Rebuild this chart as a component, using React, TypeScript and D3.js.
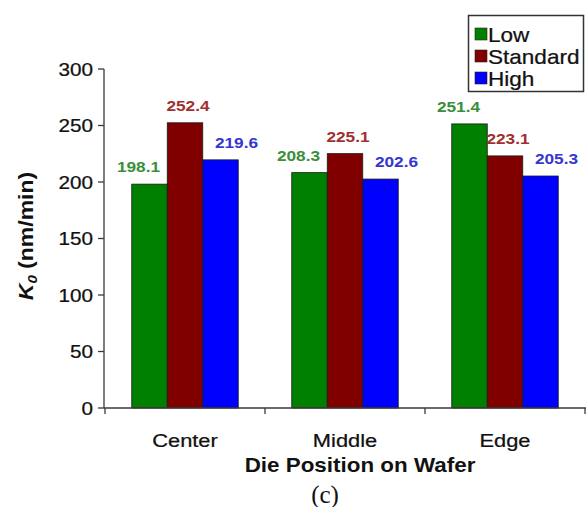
import React from "react";
import * as d3 from "d3";

// Etch rate K0 per die position, three process settings
const positions = ["Center", "Middle", "Edge"];
const seriesNames = ["Low", "Standard", "High"];
const lowValues = [198.1, 208.3, 251.4];
const standardValues = [252.4, 225.1, 223.1];
const highValues = [219.6, 202.6, 205.3];
const yTicks = [0, 50, 100, 150, 200, 250, 300];

const W = 586;
const H = 507;
const barFill = ["#008000", "#800000", "#0000ff"];
const labelFill = ["#3a8f3a", "#a03030", "#3535d0"];
const labelDx = [-11, 3, 16];
const SX = 1.15; // horizontal glyph stretch
const FONT = "Arial, 'Liberation Sans', Helvetica, sans-serif";

export default function App() {
  const values = [lowValues, standardValues, highValues];
  const y = d3.scaleLinear().domain([0, 300]).range([408, 69]);
  const x0 = d3.scaleBand<string>().domain(positions).range([105, 585]).padding(0);
  const x1 = d3
    .scaleBand<string>()
    .domain(seriesNames)
    .range([26.75, x0.bandwidth() - 26.75])
    .padding(0);
  const axisColor = "#3a3a3a";

  const stretched = (
    key: string,
    tx: number,
    ty: number,
    content: React.ReactNode,
    props: any,
    rotate = 0,
    sx = SX
  ) => (
    <text
      key={key}
      transform={`translate(${tx},${ty})${rotate ? ` rotate(${rotate})` : ""} scale(${sx},1)`}
      {...props}
    >
      {content}
    </text>
  );

  return (
    <svg
      width={W}
      height={H}
      style={{ position: "absolute", left: 0, top: 0, background: "#fff" }}
      fontFamily={FONT}
    >
      {/* bars */}
      {positions.map((p, i) => (
        <g key={p} transform={`translate(${x0(p)},0)`}>
          {seriesNames.map((s, j) => {
            const v = values[j][i];
            const bx = x1(s)!;
            return (
              <rect
                key={s}
                x={bx}
                y={y(v)}
                width={x1.bandwidth()}
                height={y(0) - y(v)}
                fill={barFill[j]}
                stroke="#1a1a1a"
                strokeWidth={0.8}
              />
            );
          })}
        </g>
      ))}

      {/* value labels */}
      {positions.map((p, i) =>
        seriesNames.map((s, j) => {
          const v = values[j][i];
          const cx = x0(p)! + x1(s)! + x1.bandwidth() / 2 + labelDx[j];
          return stretched(
            `lbl-${p}-${s}`,
            cx,
            y(v) - 12,
            v.toFixed(1),
            {
              textAnchor: "middle",
              fontSize: 15,
              fontWeight: "bold",
              fill: labelFill[j],
            }
          );
        })
      )}

      {/* y axis */}
      <line x1={104} x2={104} y1={y(300)} y2={y(0)} stroke={axisColor} strokeWidth={1.3} />
      {yTicks.map((t) => (
        <g key={t}>
          <line x1={98} x2={104} y1={y(t)} y2={y(t)} stroke={axisColor} strokeWidth={1.3} />
          {stretched(`yt-${t}`, 93, y(t) + 6.5, String(t), {
            textAnchor: "end",
            fontSize: 18,
            fill: "#111",
            stroke: "#111",
            strokeWidth: 0.25,
          })}
        </g>
      ))}

      {/* x axis */}
      <line x1={104} x2={586} y1={y(0)} y2={y(0)} stroke={axisColor} strokeWidth={1.3} />
      {[...positions.map((p) => x0(p)!), x0.range()[1]].map((tx, k) => (
        <line
          key={`xt-${k}`}
          x1={tx}
          x2={tx}
          y1={y(0)}
          y2={y(0) + 6}
          stroke={axisColor}
          strokeWidth={1.3}
        />
      ))}
      {positions.map((p) =>
        stretched(`xl-${p}`, x0(p)! + x0.bandwidth() / 2, 447, p, {
          textAnchor: "middle",
          fontSize: 19,
          fill: "#111",
          stroke: "#111",
          strokeWidth: 0.25,
        })
      )}

      {/* axis titles */}
      {stretched("xtitle", 360, 472, "Die Position on Wafer", {
        textAnchor: "middle",
        fontSize: 19.5,
        fontWeight: "bold",
        fill: "#111",
      })}
      {stretched(
        "ytitle",
        33,
        236,
        <>
          <tspan fontStyle="italic">K</tspan>
          <tspan fontStyle="italic" fontSize={13} dy={4}>
            0
          </tspan>
          <tspan dy={-4}> (nm/min)</tspan>
        </>,
        {
          textAnchor: "middle",
          fontSize: 20,
          fontWeight: "bold",
          fill: "#111",
        },
        -90
      )}

      {/* legend */}
      <rect x={468.5} y={15.5} width={115} height={76} fill="#fff" stroke="#333" strokeWidth={1.5} />
      {seriesNames.map((s, j) => {
        const cy = 34 + j * 22;
        return (
          <g key={`lg-${s}`}>
            <rect
              x={475}
              y={cy - 6}
              width={12}
              height={12}
              fill={barFill[j]}
              stroke="#222"
              strokeWidth={0.6}
            />
            {stretched(
              `lgt-${s}`,
              488,
              cy + 7.5,
              s,
              {
                fontSize: 20.5,
                fill: "#111",
                stroke: "#111",
                strokeWidth: 0.25,
              },
              0,
              1.1
            )}
          </g>
        );
      })}

      {/* panel caption */}
      <text
        x={325}
        y={503}
        textAnchor="middle"
        fontSize={25}
        fontFamily="'Liberation Serif', 'Times New Roman', serif"
        fill="#111"
      >
        (c)
      </text>
    </svg>
  );
}
